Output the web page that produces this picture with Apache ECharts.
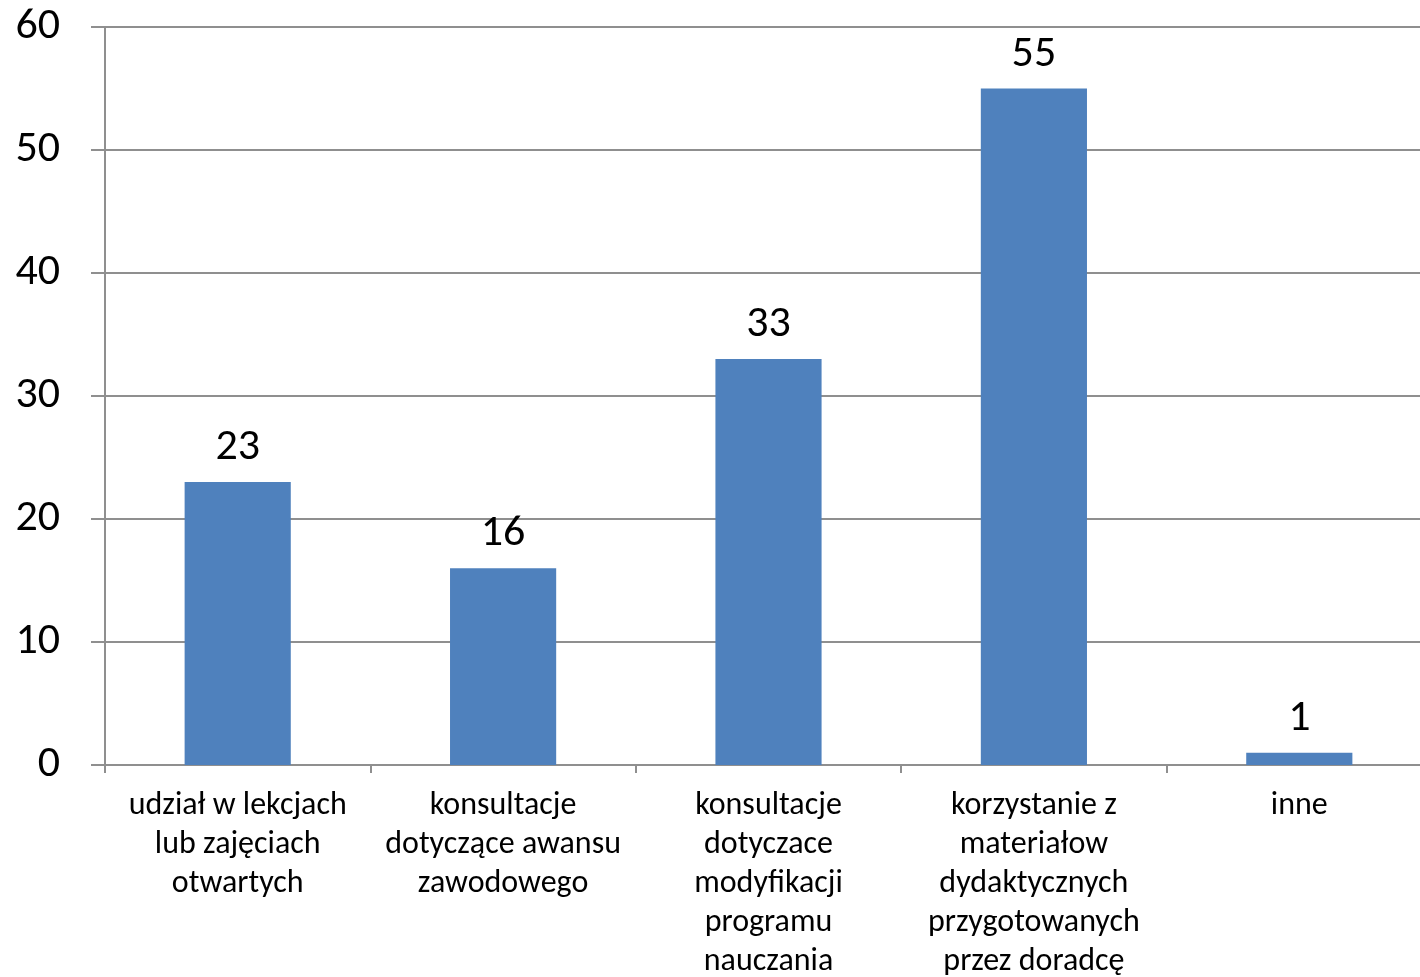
<!DOCTYPE html>
<html>
<head>
<meta charset="utf-8">
<script src="https://cdn.jsdelivr.net/npm/echarts@6/dist/echarts.min.js"></script>
<style>
  html, body { margin: 0; padding: 0; background: #fff; }
  #main { width: 1420px; height: 977px; }
</style>
</head>
<body>
<div id="main"></div>
<script>
var chartDom = document.getElementById('main');
var myChart = echarts.init(chartDom);
var option;

// kategorie (z ręcznym łamaniem linii)
var categories = [
    'udział w lekcjach\nlub zajęciach\notwartych',
    'konsultacje\ndotyczące awansu\nzawodowego',
    'konsultacje\ndotyczace\nmodyfikacji\nprogramu\nnauczania',
    'korzystanie z\nmateriałow\ndydaktycznych\nprzygotowanych\nprzez doradcę',
    'inne'
];
var values = [23, 16, 33, 55, 1];
var yTicks = [0, 10, 20, 30, 40, 50, 60];

var fontFamily = 'Carlito, Calibri, Lato, sans-serif';
var gray = '#8f8f8f';

option = {
    animation: false,
    backgroundColor: '#fff',
    grid: {
        left: 105,
        right: -12,
        top: 27,
        bottom: 212,
        outerBoundsMode: 'none',
        containLabel: false
    },
    xAxis: {
        type: 'category',
        data: categories,
        axisLine: { lineStyle: { color: gray, width: 2 } },
        axisTick: { show: true, length: 8, lineStyle: { color: gray, width: 2 } },
        axisLabel: {
            interval: 0,
            color: '#000',
            fontFamily: fontFamily,
            fontSize: 32,
            lineHeight: 39,
            margin: 21
        }
    },
    yAxis: {
        type: 'value',
        min: yTicks[0],
        max: yTicks[yTicks.length - 1],
        interval: 10,
        axisLine: { show: true, lineStyle: { color: gray, width: 2 } },
        axisTick: { show: true, length: 14, lineStyle: { color: gray, width: 2 } },
        splitLine: { lineStyle: { color: gray, width: 2 } },
        axisLabel: {
            color: '#000',
            fontFamily: fontFamily,
            fontSize: 44,
            margin: 45
        }
    },
    series: [
        {
            type: 'bar',
            data: values,
            barWidth: '40%',
            itemStyle: { color: '#4f81bd' },
            label: {
                show: true,
                position: 'top',
                distance: 12,
                color: '#000',
                fontFamily: fontFamily,
                fontSize: 44
            }
        }
    ]
};

option && myChart.setOption(option);
</script>
</body>
</html>
